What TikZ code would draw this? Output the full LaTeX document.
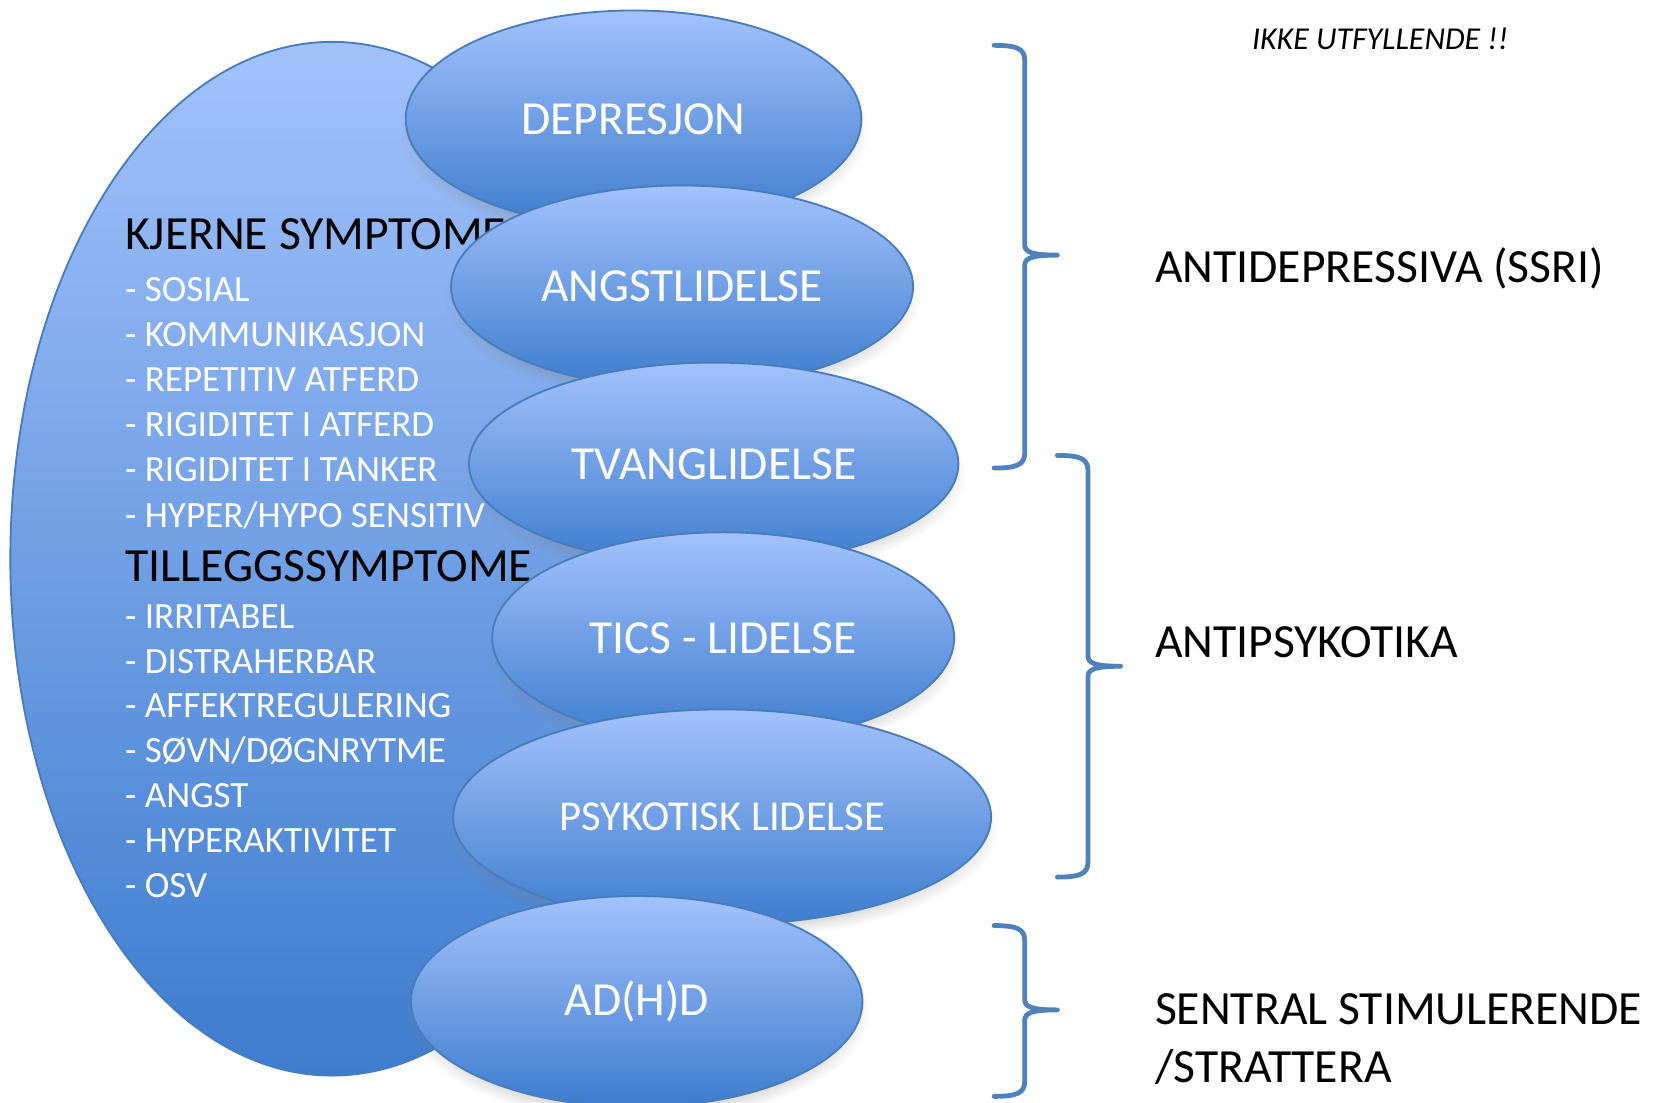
\documentclass[tikz,border=0pt]{standalone}
\usepackage{fontspec}
\setmainfont{Carlito}
\usetikzlibrary{shapes.geometric,shadows}
\definecolor{elltop}{RGB}{162,194,251}
\definecolor{ellbot}{RGB}{62,124,206}
\definecolor{ellline}{RGB}{72,124,186}
\definecolor{bracecol}{RGB}{79,129,189}
\tikzset{
  blob/.style={ellipse, draw=ellline, line width=0.5pt, top color=elltop, bottom color=ellbot,
    text=white, inner sep=0pt, font=\fontsize{12.8}{15}\selectfont,
    circular drop shadow={shadow xshift=0pt, shadow yshift=-3pt, shadow scale=1.03, opacity=0.35}},
  item/.style={anchor=base west, inner sep=0pt, text=white, font=\fontsize{10}{12}\selectfont},
  heading/.style={anchor=base west, inner sep=0pt, font=\fontsize{12.85}{15}\selectfont},
  bracket/.style={draw=bracecol, line width=1.3pt, line cap=round, line join=round}
}
% end x, spine x, top y, tip y, bottom y
\newcommand{\medbrace}[5]{%
  \draw[bracket] (#1,#3) .. controls (#2-8,#3) and (#2,#3+3) .. (#2,#3+14) -- (#2,#4-10)
    .. controls (#2,#4-3) and (#2+6,#4) .. (#2+31,#4)
    .. controls (#2+6,#4) and (#2,#4+3) .. (#2,#4+10) -- (#2,#5-14)
    .. controls (#2,#5-3) and (#2-8,#5) .. (#1,#5);}
\begin{document}
\begin{tikzpicture}[x=0.01cm, y=-0.01cm]
\useasboundingbox (0,0) rectangle (1568,1046);
\node[ellipse, draw=ellline, line width=0.5pt, top color=elltop, bottom color=ellbot,
  minimum width=6.1cm, minimum height=9.8cm] (core) at (315,530) {};
\node[heading] (kjerne) at (118,237) {KJERNE SYMPTOME};
\foreach \t [count=\i] in {SOSIAL, KOMMUNIKASJON, REPETITIV ATFERD, RIGIDITET I ATFERD,
    RIGIDITET I TANKER, HYPER/HYPO SENSITIV}
  \node[item] (k\i) at (118,{286+42.8*(\i-1)}) {- \t};
\node[heading] (tillegg) at (118,552) {TILLEGGSSYMPTOME};
\foreach \t [count=\i] in {IRRITABEL, DISTRAHERBAR, AFFEKTREGULERING, SØVN/DØGNRYTME,
    ANGST, HYPERAKTIVITET, OSV}
  \node[item] (t\i) at (118,{596+42.5*(\i-1)}) {- \t};
\node[blob, minimum width=4.32cm, minimum height=2.06cm] (dep) at (601,113) {DEPRESJON};
\node[blob, minimum width=4.38cm, minimum height=1.92cm] (angst) at (647,272) {ANGSTLIDELSE};
\node[blob, minimum width=4.64cm, minimum height=1.92cm] (tvang) at (677,440) {TVANGLIDELSE};
\node[blob, minimum width=4.38cm, minimum height=2.0cm] (tics) at (686,605) {TICS - LIDELSE};
\node[blob, minimum width=5.1cm, minimum height=2.04cm, font=\fontsize{11.5}{14}\selectfont]
  (psyk) at (685,775) {PSYKOTISK LIDELSE};
\node[blob, minimum width=4.28cm, minimum height=2.0cm] (adhd) at (604,950) {AD(H)D};
\node[heading, font=\fontsize{8.6}{10}\selectfont\itshape] (note) at (1187,47) {IKKE UTFYLLENDE !!};
\medbrace{943}{972}{43}{242}{444}
\medbrace{1003}{1032}{432}{632}{832}
\medbrace{943}{972}{878}{958}{1040}
\node[heading] (ssri) at (1095,268) {ANTIDEPRESSIVA (SSRI)};
\node[heading] (antipsyk) at (1095,624) {ANTIPSYKOTIKA};
\node[heading] (sentral) at (1095,972) {SENTRAL STIMULERENDE};
\node[heading] (strattera) at (1095,1027) {/STRATTERA};
\end{tikzpicture}
\end{document}
